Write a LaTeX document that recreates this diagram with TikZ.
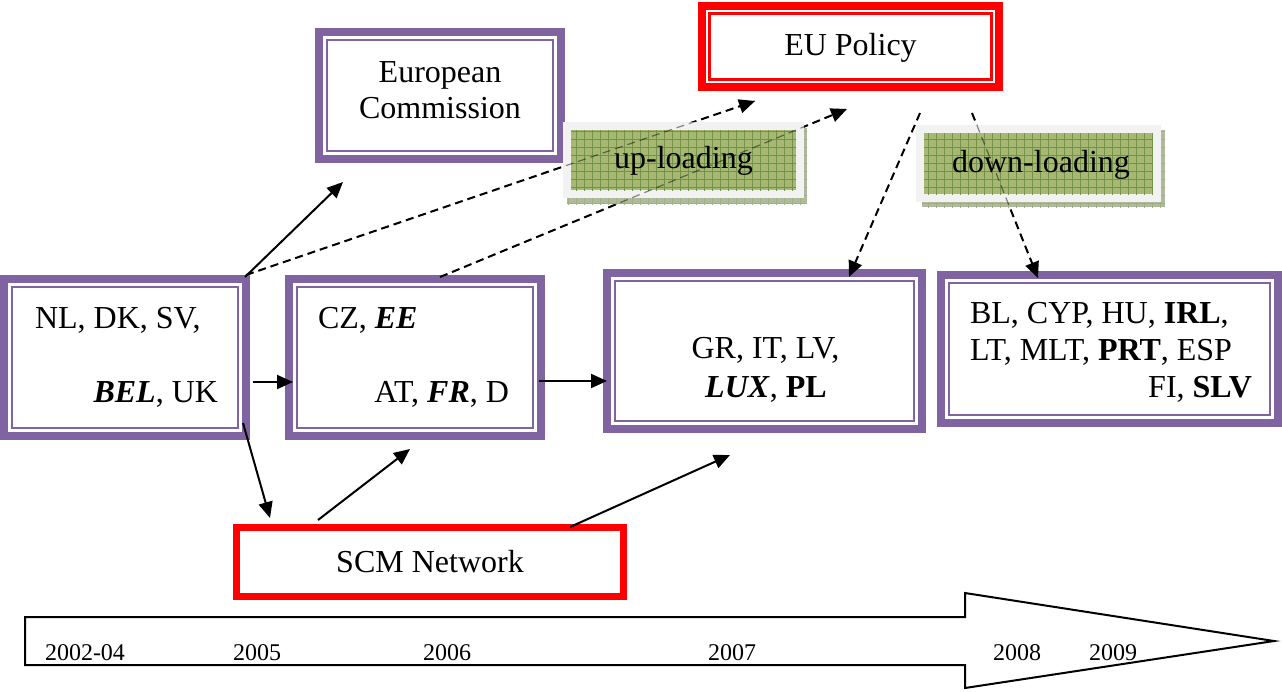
\documentclass[tikz,border=0pt]{standalone}
\usepackage{fontspec}
\setmainfont{LiberationSerif}[Extension=.ttf, UprightFont=*-Regular, BoldFont=*-Bold, ItalicFont=*-Italic, BoldItalicFont=*-BoldItalic]
\usetikzlibrary{arrows.meta,patterns.meta}
\definecolor{boxpurple}{HTML}{8064A2}
\definecolor{boxred}{HTML}{FF0000}
\definecolor{tagfill}{HTML}{A6B872}
\definecolor{taggrid}{HTML}{74914A}
\definecolor{tagedge}{HTML}{F2F2F2}
\definecolor{tagshadow}{HTML}{B0B99E}
\newcommand\innerframe[4]{\draw[draw=#2, line width=#4] ([shift={(#3,#3)}]#1.north west) rectangle ([shift={(-#3,-#3)}]#1.south east);}
\begin{document}
\begin{tikzpicture}[x=1pt, y=-1pt,
  every node/.style={inner sep=0pt, outer sep=0pt},
  pbox/.style={draw=boxpurple, line width=8pt, fill=white, rectangle},
  rbox/.style={draw=boxred, line width=8pt, fill=white, rectangle},
  lbl/.style={font=\fontsize{32}{38}\selectfont},
  yr/.style={font=\fontsize{24}{28}\selectfont, anchor=base west},
  conn/.style={line width=2pt, -{Triangle[length=16pt,width=14pt]}},
  dconn/.style={conn, dash pattern=on 8pt off 5pt},
  ghost/.style={line width=1.2pt, dash pattern=on 8pt off 5pt, draw opacity=0.45},
  tagbox/.style={rectangle, fill=tagfill,
    preaction={draw=tagedge, line width=16pt},
    postaction={pattern={Hatch[distance=8pt, line width=0.4pt]}, pattern color=taggrid}},
  tagshade/.style={fill=tagshadow, postaction={pattern={Hatch[distance=8pt, line width=0.4pt]}, pattern color=taggrid!70}}
]
\useasboundingbox (0,0) rectangle (1282,691);

% boxes
\node[pbox, minimum width=242pt, minimum height=157pt] (nA) at (125,357.5) {};
\node[pbox, minimum width=252pt, minimum height=157pt] (nB) at (415,357.5) {};
\node[pbox, minimum width=315pt, minimum height=156pt] (nC) at (764.5,351) {};
\node[pbox, minimum width=337pt, minimum height=148pt] (nD) at (1109.5,349) {};
\node[pbox, minimum width=242pt, minimum height=127pt] (nE) at (440,95.5) {};
\node[rbox, minimum width=297pt, minimum height=81pt] (nF) at (850.5,46.5) {};
\node[rbox, line width=7pt, minimum width=387pt, minimum height=69pt] (nG) at (430,562) {};
\innerframe{nA}{boxpurple}{8}{2pt}
\innerframe{nB}{boxpurple}{8}{2pt}
\innerframe{nC}{boxpurple}{8}{2pt}
\innerframe{nD}{boxpurple}{8}{2pt}
\innerframe{nE}{boxpurple}{8}{2pt}
\innerframe{nF}{boxred}{7.5}{3pt}

% connectors
\draw[conn] ([shift={(-1,-2)}]nA.north east) -- ([shift={(24,23)}]nE.south west);
\draw[dconn] ([shift={(0,-4)}]nA.north east) -- ([shift={(53,14)}]nF.south west);
\draw[dconn] ([shift={(25,-2)}]nB.north) -- ([shift={(-3.5,22)}]nF.south);
\draw[dconn] ([shift={(69.5,26)}]nF.south) -- ([shift={(84.5,4)}]nC.north);
\draw[dconn] ([shift={(121.5,26)}]nF.south) -- ([shift={(97,3)}]nD.north west);
\draw[conn] ([shift={(7,24.5)}]nA.east) -- ([shift={(4,24.5)}]nB.west);
\draw[conn] ([shift={(-2,23.5)}]nB.east) -- ([shift={(0,30)}]nC.west);
\draw[conn] ([shift={(-3,-13)}]nA.south east) -- ([shift={(33.5,-9.5)}]nG.north west);
\draw[conn] ([shift={(81.5,-7.5)}]nG.north west) -- ([shift={(-5,13)}]nB.south);
\draw[conn] ([shift={(140,-0.5)}]nG.north) -- ([shift={(-34.5,26)}]nC.south);

% tags
\fill[tagshade] (567,128) rectangle (807,204);
\node[tagbox, minimum width=225pt, minimum height=60pt] (tagU) at (683.5,160) {};
\fill[tagshade] (922,130) rectangle (1165,207);
\node[tagbox, minimum width=229pt, minimum height=61pt] (tagD) at (1038.5,163.5) {};

% faint traces of the dashed connectors seen through the tags
\draw[ghost] ([shift={(0,-4)}]nA.north east) -- ([shift={(53,14)}]nF.south west);
\draw[ghost] ([shift={(25,-2)}]nB.north) -- ([shift={(-3.5,22)}]nF.south);
\draw[ghost] ([shift={(121.5,26)}]nF.south) -- ([shift={(97,3)}]nD.north west);

% texts
\node[lbl, anchor=base] (tU) at (683.5,168) {up-loading};
\node[lbl, anchor=base] (tDn) at (1041,172) {down-loading};
\node[lbl, anchor=base] (tE1) at (440,82) {European};
\node[lbl, anchor=base] (tE2) at (440,118) {Commission};
\node[lbl, anchor=base] (tF) at (850.5,55) {EU Policy};
\node[lbl, anchor=base] (tG) at (430,572) {SCM Network};
\node[lbl, anchor=base west] (tA1) at (35,328) {NL, DK, SV,};
\node[lbl, anchor=base east] (tA2) at (218,402) {\textbf{\textit{BEL}}, UK};
\node[lbl, anchor=base west] (tB1) at (318,328) {CZ, \textbf{\textit{EE}}};
\node[lbl, anchor=base east] (tB2) at (509,402) {AT, \textbf{\textit{FR}}, D};
\node[lbl, anchor=base] (tC1) at (765.5,358) {GR, IT, LV,};
\node[lbl, anchor=base] (tC2) at (766,397) {\textbf{\textit{LUX}}, \textbf{PL}};
\node[lbl, anchor=base west] (tD1) at (970,323) {BL, CYP, HU, \textbf{IRL},};
\node[lbl, anchor=base west] (tD2) at (970,360) {LT, MLT, \textbf{PRT}, ESP};
\node[lbl, anchor=base east] (tD3) at (1252,397) {FI, \textbf{SLV}};

% timeline
\draw[line width=2pt, fill=white] (25,617) -- (965,617) -- (965,593) -- (1274,641) -- (965,688) -- (965,665) -- (25,665) -- cycle;
\node[yr] (y1) at (45,660) {2002-04};
\node[yr] (y2) at (233,660) {2005};
\node[yr] (y3) at (423,660) {2006};
\node[yr] (y4) at (708,660) {2007};
\node[yr] (y5) at (993,660) {2008};
\node[yr] (y6) at (1089,660) {2009};
\end{tikzpicture}
\end{document}
